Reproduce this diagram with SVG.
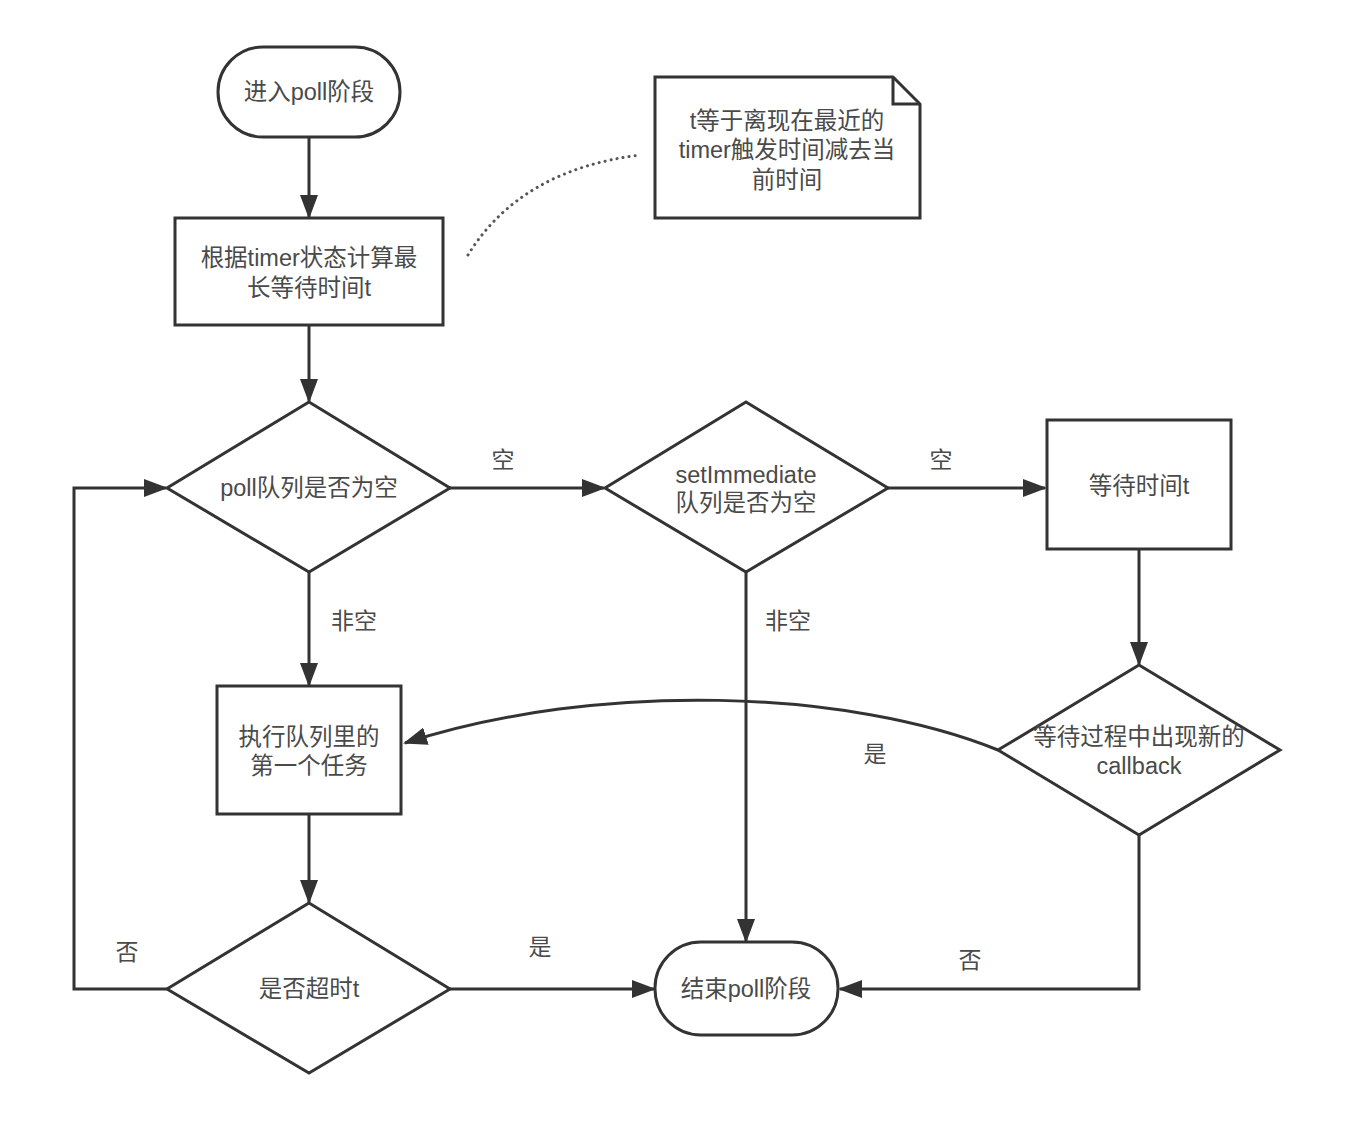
<svg xmlns="http://www.w3.org/2000/svg" width="1348" height="1123" viewBox="0 0 1348 1123">
<defs>
<marker id="ah" markerWidth="24" markerHeight="18" refX="22" refY="9" orient="auto" markerUnits="userSpaceOnUse">
<path d="M0,0 L24,9 L0,18 Z" fill="#333"/>
</marker>
<style>
.s{fill:#fff;stroke:#333;stroke-width:3}
.c{fill:none;stroke:#333;stroke-width:3}
.t{font-family:"Liberation Sans","Noto Sans CJK SC",sans-serif;font-size:23.5px;fill:#4a4a4a;text-anchor:middle;dominant-baseline:central}
.l{font-family:"Noto Sans CJK SC",sans-serif;font-size:23px;fill:#4a4a4a;text-anchor:middle;dominant-baseline:central}
</style>
</defs>
<rect width="1348" height="1123" fill="#fff"/>
<g id="connectors">
<line class="c" x1="309" y1="137" x2="309" y2="217" marker-end="url(#ah)"/>
<line class="c" x1="309" y1="325" x2="309" y2="401" marker-end="url(#ah)"/>
<line class="c" x1="450" y1="488" x2="604" y2="488" marker-end="url(#ah)"/>
<line class="c" x1="888" y1="488" x2="1045" y2="488" marker-end="url(#ah)"/>
<line class="c" x1="1139" y1="549" x2="1139" y2="664" marker-end="url(#ah)"/>
<path class="c" d="M998,750 C850,690 600,680 405,743" marker-end="url(#ah)"/>
<polyline class="c" points="1139,835 1139,989 840,989" marker-end="url(#ah)"/>
<line class="c" x1="309" y1="572" x2="309" y2="685" marker-end="url(#ah)"/>
<line class="c" x1="309" y1="814" x2="309" y2="902" marker-end="url(#ah)"/>
<line class="c" x1="450" y1="989" x2="654" y2="989" marker-end="url(#ah)"/>
<polyline class="c" points="167,989 74,989 74,488 166,488" marker-end="url(#ah)"/>
<line class="c" x1="746" y1="572" x2="746" y2="941" marker-end="url(#ah)"/>
<path d="M468,255 Q520,170 640,155" fill="none" stroke="#555" stroke-width="3" stroke-dasharray="0.1 6" stroke-linecap="round"/>
<text class="l" x="503" y="458">空</text>
<text class="l" x="941" y="458">空</text>
<text class="l" x="354" y="619">非空</text>
<text class="l" x="788" y="619">非空</text>
<text class="l" x="875" y="752">是</text>
<text class="l" x="970" y="958">否</text>
<text class="l" x="540" y="945">是</text>
<text class="l" x="127" y="950">否</text>
</g>
<g id="start">
<rect class="s" x="218" y="47" width="182" height="90" rx="45"/>
<text class="t" x="309" y="92">进入poll阶段</text>
</g>
<g id="calc">
<rect class="s" x="175" y="218" width="268" height="107"/>
<text class="t" x="309" y="258">根据timer状态计算最</text>
<text class="t" x="309" y="288">长等待时间t</text>
</g>
<g id="note">
<path class="s" d="M655,77 L893,77 L920,104 L920,218 L655,218 Z"/>
<path class="c" d="M893,77 L893,104 L920,104"/>
<text class="t" x="787" y="121">t等于离现在最近的</text>
<text class="t" x="787" y="150">timer触发时间减去当</text>
<text class="t" x="787" y="180">前时间</text>
</g>
<g id="pollEmpty">
<polygon class="s" points="309,402 450,488 309,572 167,488"/>
<text class="t" x="309" y="488">poll队列是否为空</text>
</g>
<g id="immEmpty">
<polygon class="s" points="746,402 888,488 746,572 605,488"/>
<text class="t" x="746" y="475">setImmediate</text>
<text class="t" x="746" y="503">队列是否为空</text>
</g>
<g id="wait">
<rect class="s" x="1047" y="420" width="184" height="129"/>
<text class="t" x="1139" y="486">等待时间t</text>
</g>
<g id="newCallback">
<polygon class="s" points="1139,665 1280,750 1139,835 998,750"/>
<text class="t" x="1139" y="737">等待过程中出现新的</text>
<text class="t" x="1139" y="766">callback</text>
</g>
<g id="exec">
<rect class="s" x="217" y="686" width="184" height="128"/>
<text class="t" x="309" y="737">执行队列里的</text>
<text class="t" x="309" y="766">第一个任务</text>
</g>
<g id="timeout">
<polygon class="s" points="309,903 450,989 309,1073 167,989"/>
<text class="t" x="309" y="989">是否超时t</text>
</g>
<g id="end">
<rect class="s" x="655" y="942" width="183" height="93" rx="46"/>
<text class="t" x="746" y="989">结束poll阶段</text>
</g>
</svg>
